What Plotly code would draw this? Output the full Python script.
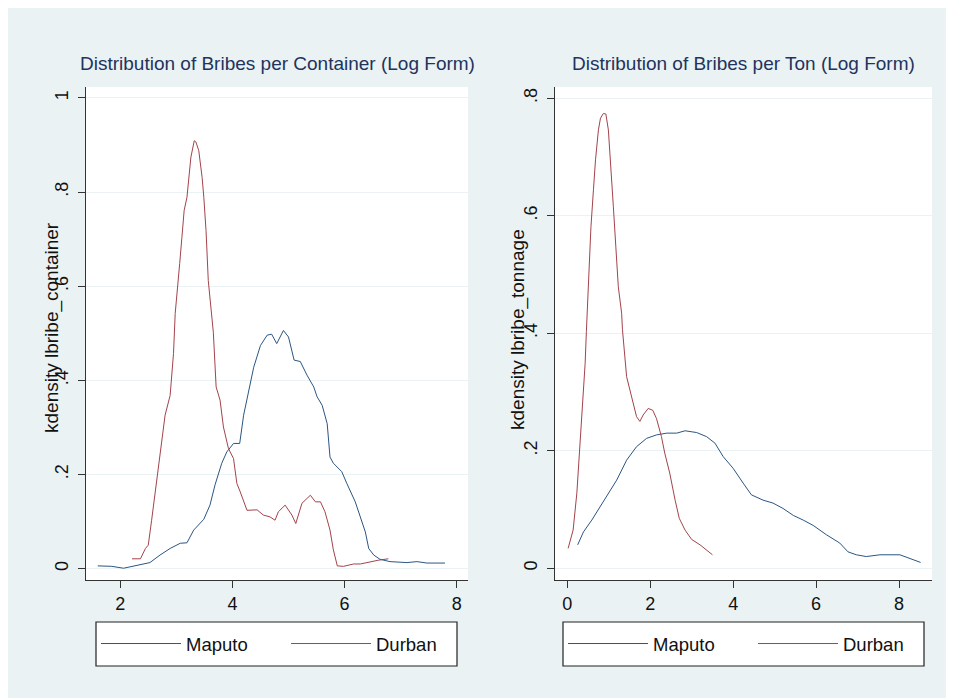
import plotly.graph_objects as go

# ---------------- data ----------------
# Left panel: kdensity of lbribe_container
cont_maputo_x = [1.60, 1.85, 2.06, 2.24, 2.53, 2.71, 2.89, 3.07, 3.19, 3.31, 3.49, 3.60, 3.69, 3.81, 3.90,
                 4.02, 4.13, 4.20, 4.29, 4.38, 4.50, 4.62, 4.70, 4.79, 4.91, 5.00, 5.10, 5.21, 5.33, 5.45,
                 5.51, 5.60, 5.69, 5.74, 5.80, 5.95, 6.04, 6.19, 6.28, 6.37, 6.43, 6.52, 6.63, 6.81, 7.11,
                 7.29, 7.47, 7.79]
cont_maputo_y = [0.006, 0.005, 0.001, 0.006, 0.013, 0.029, 0.043, 0.054, 0.055, 0.082, 0.105, 0.135, 0.178, 0.224, 0.248,
                 0.266, 0.266, 0.326, 0.379, 0.428, 0.474, 0.496, 0.498, 0.478, 0.506, 0.492, 0.443, 0.440, 0.411, 0.386,
                 0.365, 0.347, 0.308, 0.237, 0.224, 0.206, 0.181, 0.142, 0.110, 0.078, 0.043, 0.029, 0.020, 0.015, 0.013,
                 0.015, 0.012, 0.012]

cont_durban_x = [2.21, 2.36, 2.45, 2.50, 2.56, 2.62, 2.68, 2.74, 2.80, 2.89, 2.95, 2.98, 3.02, 3.06, 3.10,
                 3.14, 3.19, 3.22, 3.26, 3.32, 3.35, 3.40, 3.46, 3.49, 3.53, 3.57, 3.62, 3.66, 3.71, 3.78,
                 3.84, 3.93, 4.02, 4.08, 4.14, 4.26, 4.44, 4.55, 4.67, 4.76, 4.82, 4.94, 5.06, 5.13, 5.24,
                 5.39, 5.48, 5.57, 5.65, 5.74, 5.80, 5.87, 5.98, 6.16, 6.28, 6.46, 6.60, 6.78]
cont_durban_y = [0.021, 0.021, 0.043, 0.050, 0.103, 0.160, 0.224, 0.280, 0.326, 0.368, 0.457, 0.542, 0.605, 0.648, 0.704,
                 0.761, 0.789, 0.824, 0.874, 0.909, 0.906, 0.888, 0.831, 0.789, 0.718, 0.612, 0.542, 0.502, 0.386, 0.358,
                 0.301, 0.255, 0.234, 0.181, 0.163, 0.124, 0.125, 0.114, 0.110, 0.103, 0.121, 0.135, 0.114, 0.096, 0.139,
                 0.156, 0.142, 0.142, 0.121, 0.082, 0.040, 0.006, 0.005, 0.010, 0.010, 0.015, 0.018, 0.021]

# Right panel: kdensity of lbribe_tonnage
ton_maputo_x = [0.25, 0.39, 0.59, 0.79, 0.99, 1.19, 1.43, 1.67, 1.91, 2.15, 2.40, 2.64, 2.84, 3.12, 3.36,
                3.56, 3.76, 4.00, 4.24, 4.44, 4.72, 4.96, 5.20, 5.45, 5.69, 5.93, 6.25, 6.57, 6.77, 6.97,
                7.21, 7.54, 8.02, 8.26, 8.52]
ton_maputo_y = [0.040, 0.062, 0.082, 0.105, 0.128, 0.150, 0.184, 0.207, 0.221, 0.227, 0.230, 0.230, 0.234, 0.231, 0.224,
                0.213, 0.190, 0.170, 0.145, 0.125, 0.116, 0.111, 0.102, 0.090, 0.082, 0.073, 0.057, 0.043, 0.028, 0.023,
                0.020, 0.023, 0.023, 0.017, 0.010]

ton_durban_x = [0.02, 0.14, 0.23, 0.29, 0.35, 0.39, 0.43, 0.46, 0.51, 0.57, 0.63, 0.68, 0.75, 0.80, 0.87,
                0.93, 0.99, 1.05, 1.11, 1.17, 1.23, 1.31, 1.33, 1.43, 1.55, 1.67, 1.75, 1.83, 1.95, 2.06,
                2.15, 2.27, 2.35, 2.47, 2.60, 2.70, 2.84, 3.00, 3.20, 3.50]
ton_durban_y = [0.034, 0.065, 0.128, 0.190, 0.252, 0.309, 0.349, 0.403, 0.485, 0.581, 0.644, 0.695, 0.746, 0.766, 0.774,
                0.773, 0.746, 0.689, 0.616, 0.547, 0.479, 0.434, 0.406, 0.326, 0.292, 0.258, 0.250, 0.261, 0.272, 0.269,
                0.255, 0.224, 0.196, 0.162, 0.116, 0.085, 0.065, 0.049, 0.040, 0.023]

series_names = ["Maputo", "Durban"]
titles = ["Distribution of Bribes per Container (Log Form)", "Distribution of Bribes per Ton (Log Form)"]
ytitles = ["kdensity lbribe_container", "kdensity lbribe_tonnage"]
left_xticks = [2, 4, 6, 8]
right_xticks = [0, 2, 4, 6, 8]
left_yticks = [0, 0.2, 0.4, 0.6, 0.8, 1]
left_ylabels = ["0", ".2", ".4", ".6", ".8", "1"]
right_yticks = [0, 0.2, 0.4, 0.6, 0.8]
right_ylabels = ["0", ".2", ".4", ".6", ".8"]

# ---------------- style ----------------
OFF = 8                      # page body margin
W, H = 954 - OFF, 698 - OFF  # figure size that fits the window
NAVY = "#2A5683"
MAROON = "#A3434B"
BG = "#EAF2F3"
GRID = "#EAF2F3"
AXIS = "#333333"
TITLE_C = "#22335E"
FONT = "Liberation Sans, Arial, sans-serif"
LW = 1.0

def px_x(p):
    return (p - OFF) / W

def px_y(p):
    return 1 - (p - OFF) / H

fig = go.Figure()

fig.add_trace(go.Scatter(x=cont_maputo_x, y=cont_maputo_y, mode="lines", name=series_names[0],
                         line=dict(color=NAVY, width=LW), xaxis="x", yaxis="y", legend="legend"))
fig.add_trace(go.Scatter(x=cont_durban_x, y=cont_durban_y, mode="lines", name=series_names[1],
                         line=dict(color=MAROON, width=LW), xaxis="x", yaxis="y", legend="legend"))
fig.add_trace(go.Scatter(x=ton_maputo_x, y=ton_maputo_y, mode="lines", name=series_names[0],
                         line=dict(color=NAVY, width=LW), xaxis="x2", yaxis="y2", legend="legend2"))
fig.add_trace(go.Scatter(x=ton_durban_x, y=ton_durban_y, mode="lines", name=series_names[1],
                         line=dict(color=MAROON, width=LW), xaxis="x2", yaxis="y2", legend="legend2"))

ydom = [px_y(580), px_y(87)]

axis_common = dict(showline=True, linecolor=AXIS, linewidth=1.2, ticks="outside", ticklen=7,
                   tickcolor=AXIS, tickwidth=1, zeroline=False,
                   tickfont=dict(family=FONT, size=18, color="#111111"))

legend_common = dict(orientation="h", xanchor="left", yanchor="middle",
                     bgcolor="rgba(0,0,0,0)", borderwidth=0,
                     font=dict(family=FONT, size=18.5, color="#111111"),
                     itemwidth=80, entrywidth=95, entrywidthmode="pixels", tracegroupgap=0)

fig.update_layout(
    width=W, height=H,
    margin=dict(l=0, r=0, t=0, b=0, autoexpand=False),
    paper_bgcolor=BG, plot_bgcolor="white",
    showlegend=True,
    xaxis=dict(domain=[px_x(86), px_x(468)], range=[1.39, 8.2], anchor="y",
               tickvals=left_xticks, showgrid=False, ticklabelstandoff=0, **axis_common),
    yaxis=dict(domain=ydom, range=[-0.024, 1.023], anchor="x",
               tickvals=left_yticks, ticktext=left_ylabels, tickangle=-90,
               showgrid=True, gridcolor=GRID, gridwidth=1, ticklabelstandoff=3, **axis_common),
    xaxis2=dict(domain=[px_x(555), px_x(932)], range=[-0.297, 8.795], anchor="y2",
                tickvals=right_xticks, showgrid=False, ticklabelstandoff=0, **axis_common),
    yaxis2=dict(domain=ydom, range=[-0.0199, 0.819], anchor="x2",
                tickvals=right_yticks, ticktext=right_ylabels, tickangle=-90,
                showgrid=True, gridcolor=GRID, gridwidth=1, ticklabelstandoff=3, **axis_common),
    legend=dict(x=px_x(96), y=px_y(644), **legend_common),
    legend2=dict(x=px_x(563), y=px_y(644), **legend_common),
    shapes=[
        # legend frames
        dict(type="rect", xref="paper", yref="paper", x0=px_x(96), x1=px_x(457), y0=px_y(666), y1=px_y(622),
             fillcolor="white", line=dict(color="#222222", width=1.2), layer="below"),
        dict(type="rect", xref="paper", yref="paper", x0=px_x(563), x1=px_x(924), y0=px_y(666), y1=px_y(622),
             fillcolor="white", line=dict(color="#222222", width=1.2), layer="below"),
    ],
    annotations=[
        dict(text=titles[0], x=px_x(277), y=px_y(63), xref="paper", yref="paper",
             showarrow=False, xanchor="center", yanchor="middle",
             font=dict(family=FONT, size=19, color=TITLE_C)),
        dict(text=titles[1], x=px_x(743), y=px_y(63), xref="paper", yref="paper",
             showarrow=False, xanchor="center", yanchor="middle",
             font=dict(family=FONT, size=19, color=TITLE_C)),
        dict(text=ytitles[0], x=px_x(52), y=px_y(328), xref="paper", yref="paper",
             showarrow=False, textangle=-90, xanchor="center", yanchor="middle",
             font=dict(family=FONT, size=19, color="#111111")),
        dict(text=ytitles[1], x=px_x(518), y=px_y(330), xref="paper", yref="paper",
             showarrow=False, textangle=-90, xanchor="center", yanchor="middle",
             font=dict(family=FONT, size=19, color="#111111")),
    ],
)

fig.write_html("out.html")
